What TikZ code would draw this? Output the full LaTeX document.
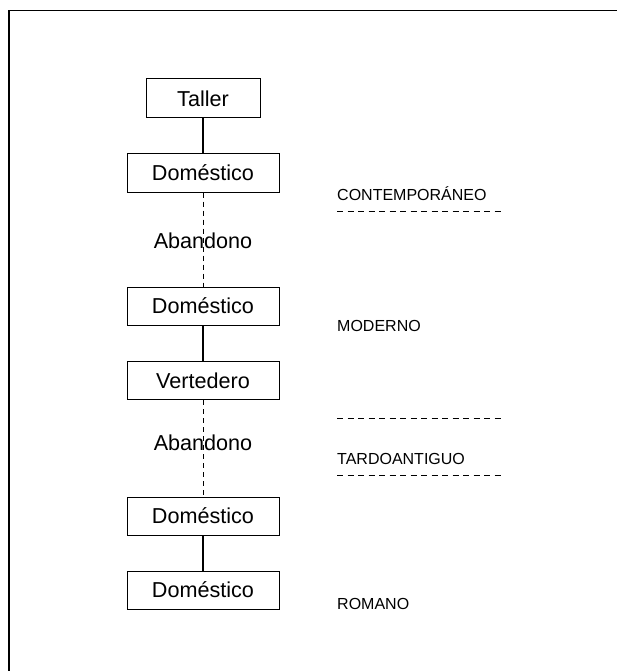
\documentclass[tikz,border=0pt]{standalone}
\usepackage{fontspec}
\setmainfont{Liberation Sans}
\begin{document}
\begin{tikzpicture}[x=1pt,y=-1pt,
  box/.style={draw, line width=1pt, minimum width=152pt, minimum height=38pt, inner sep=0pt, font=\fontsize{21.6}{25}\selectfont},
  lbl/.style={anchor=west, inner sep=0pt, font=\fontsize{16}{19}\selectfont},
  mid/.style={inner sep=0pt, font=\fontsize{21.6}{25}\selectfont},
  solidc/.style={line width=2pt},
  dashc/.style={line width=1pt, dash pattern=on 5pt off 4pt},
  period/.style={line width=0.9pt, dash pattern=on 6pt off 4.5pt}]
\useasboundingbox (0,0) rectangle (616,671);
\draw[line width=1.2pt] (9,680) -- (9,10.5) -- (630,10.5);
\node[box, minimum width=114pt, minimum height=39pt] (t) at (203,98.5) {Taller};
\node[box] (d1) at (203,173) {Doméstico};
\node[mid] (a1) at (203,241) {Abandono};
\node[box] (d2) at (203,306) {Doméstico};
\node[box] (v) at (203,380.5) {Vertedero};
\node[mid] (a2) at (203,443) {Abandono};
\node[box] (d3) at (203,516) {Doméstico};
\node[box] (d4) at (203,590) {Doméstico};
\draw[solidc] (t) -- (d1);
\draw[dashc] (d1) -- (d2);
\draw[solidc] (d2) -- (v);
\draw[dashc] (v) -- (d3);
\draw[solidc] (d3) -- (d4);
\node[lbl] (c) at (337,194) {CONTEMPORÁNEO};
\node[lbl] (m) at (337,326) {MODERNO};
\node[lbl] (ta) at (337,459) {TARDOANTIGUO};
\node[lbl] (r) at (337,604) {ROMANO};
\coordinate (p1a) at (337,211); \coordinate (p1b) at (502,211);
\coordinate (p2a) at (337,418); \coordinate (p2b) at (502,418);
\coordinate (p3a) at (337,475); \coordinate (p3b) at (502,475);
\draw[period] (p1a) -- (p1b);
\draw[period] (p2a) -- (p2b);
\draw[period] (p3a) -- (p3b);
\end{tikzpicture}
\end{document}
